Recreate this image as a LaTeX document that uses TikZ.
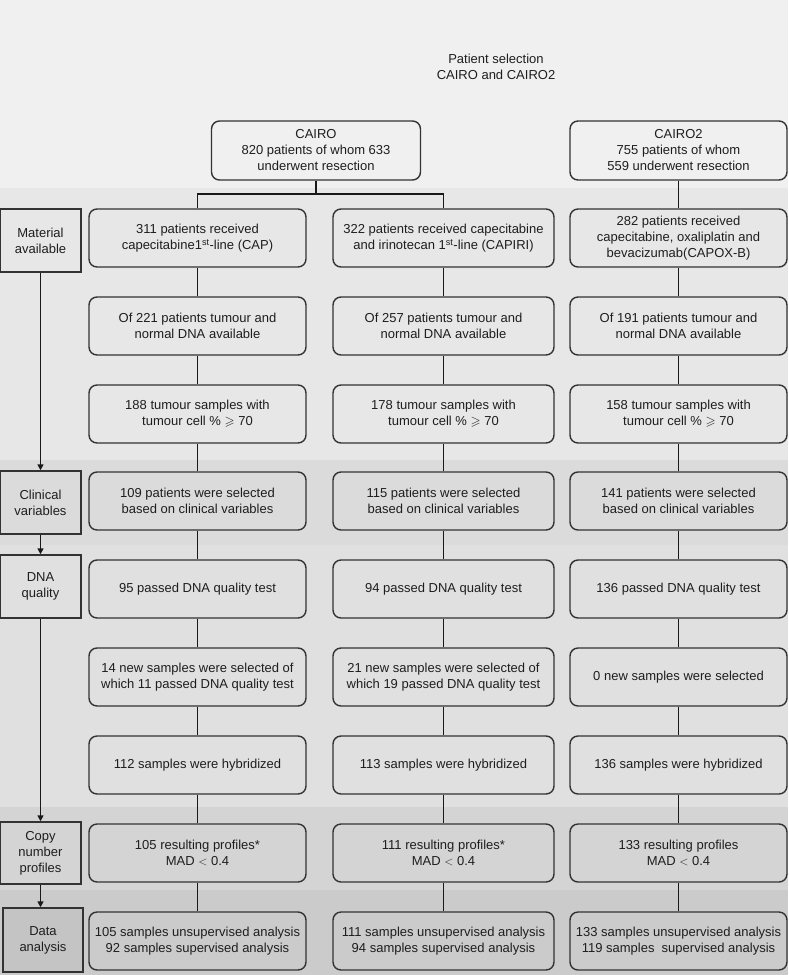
\documentclass[tikz,border=0pt]{standalone}
\usepackage{fontspec}
\usepackage{amssymb}
\setmainfont{Liberation Sans}
\usetikzlibrary{arrows.meta}
\definecolor{bgA}{HTML}{F0F0F1}
\definecolor{bgB}{HTML}{E7E7E8}
\definecolor{bgC}{HTML}{DBDBDC}
\definecolor{bgD}{HTML}{E0E0E0}
\definecolor{bgE}{HTML}{D4D4D4}
\definecolor{bgF}{HTML}{CBCBCB}
\definecolor{dabox}{HTML}{C4C4C4}
\definecolor{ink}{HTML}{1E1E1E}
\begin{document}
\begin{tikzpicture}[x=1pt,y=-1pt,
  txt/.style={font=\fontsize{13}{16}\selectfont,text=ink},
  rbox/.style={txt,draw=black!80,line width=1.4pt,rounded corners=8pt,minimum height=58pt,align=center,inner sep=0pt},
  lbox/.style={txt,draw=black!80,line width=1.4pt,minimum width=81pt,minimum height=63pt,align=center,inner sep=0pt},
  conn/.style={line width=1.6pt,black!90},
  arr/.style={line width=1.6pt,black!90,-{Triangle[length=6pt,width=6pt]}}]
% background bands
\fill[bgA] (0,0) rectangle (788,188);
\fill[bgB] (0,188) rectangle (788,460);
\fill[bgC] (0,460) rectangle (788,545);
\fill[bgD] (0,545) rectangle (788,807);
\fill[bgE] (0,807) rectangle (788,890);
\fill[bgF] (0,890) rectangle (788,975);
\useasboundingbox (0,0) rectangle (788,975);
% title
\node[txt,align=center] (title) at (496,67) {Patient selection\\CAIRO and CAIRO2};
% top boxes
\node[rbox,minimum width=209pt,minimum height=59pt] (cairo) at (316,150.5) {CAIRO\\820 patients of whom 633\\underwent resection};
\node[rbox,minimum width=217pt,minimum height=59pt] (cairotwo) at (678.5,150.5) {CAIRO2\\755 patients of whom\\559 underwent resection};
% column 1
\begin{scope}[every node/.style={rbox,minimum width=217pt}]
\node (a1) at (197.5,238) {311 patients received\\capecitabine1\textsuperscript{st}-line (CAP)};
\node (a2) at (197.5,326) {Of 221 patients tumour and\\normal DNA available};
\node (a3) at (197.5,414) {188 tumour samples with\\tumour cell \% $\geqslant$ 70};
\node (a4) at (197.5,501) {109 patients were selected\\based on clinical variables};
\node (a5) at (197.5,589) {95 passed DNA quality test};
\node (a6) at (197.5,677) {14 new samples were selected of\\which 11 passed DNA quality test};
\node (a7) at (197.5,765) {112 samples were hybridized};
\node (a8) at (197.5,853) {105 resulting profiles*\\MAD $<$ 0.4};
\node (a9) at (197.5,941) {105 samples unsupervised analysis\\92 samples supervised analysis};
\end{scope}
% column 2
\begin{scope}[every node/.style={rbox,minimum width=221pt}]
\node (b1) at (443.5,238) {322 patients received capecitabine\\and irinotecan 1\textsuperscript{st}-line (CAPIRI)};
\node (b2) at (443.5,326) {Of 257 patients tumour and\\normal DNA available};
\node (b3) at (443.5,414) {178 tumour samples with\\tumour cell \% $\geqslant$ 70};
\node (b4) at (443.5,501) {115 patients were selected\\based on clinical variables};
\node (b5) at (443.5,589) {94 passed DNA quality test};
\node (b6) at (443.5,677) {21 new samples were selected of\\which 19 passed DNA quality test};
\node (b7) at (443.5,765) {113 samples were hybridized};
\node (b8) at (443.5,853) {111 resulting profiles*\\MAD $<$ 0.4};
\node (b9) at (443.5,941) {111 samples unsupervised analysis\\94 samples supervised analysis};
\end{scope}
% column 3
\begin{scope}[every node/.style={rbox,minimum width=217pt}]
\node (c1) at (678.5,238) {282 patients received\\capecitabine, oxaliplatin and\\bevacizumab(CAPOX-B)};
\node (c2) at (678.5,326) {Of 191 patients tumour and\\normal DNA available};
\node (c3) at (678.5,414) {158 tumour samples with\\tumour cell \% $\geqslant$ 70};
\node (c4) at (678.5,501) {141 patients were selected\\based on clinical variables};
\node (c5) at (678.5,589) {136 passed DNA quality test};
\node (c6) at (678.5,677) {0 new samples were selected};
\node (c7) at (678.5,765) {136 samples were hybridized};
\node (c8) at (678.5,853) {133 resulting profiles\\MAD $<$ 0.4};
\node (c9) at (678.5,941) {133 samples unsupervised analysis\\119 samples\ \ supervised analysis};
\end{scope}
% left labels
\node[lbox,fill=bgB] (lmat) at (40.5,240.5) {Material\\available};
\node[lbox,fill=bgC] (lcli) at (40.5,502.5) {Clinical\\variables};
\node[lbox,fill=bgD] (ldna) at (40.5,586.5) {DNA\\quality};
\node[lbox,fill=bgE,minimum height=62pt] (lcop) at (40.5,853) {Copy\\number\\profiles};
\node[lbox,fill=dabox,minimum width=80pt,minimum height=64pt] (ldat) at (43,940) {Data\\analysis};
% connectors
\coordinate (split) at (316,194);
\draw[conn] (cairo.south) -- (split);
\draw[conn] (a1.north) |- (split) -| (b1.north);
\draw[conn] (cairotwo.south) -- (c1.north);
\foreach \p in {a,b,c}{
  \draw[conn] (\p1) -- (\p2);
  \draw[conn] (\p2) -- (\p3);
  \draw[conn] (\p3) -- (\p4);
  \draw[conn] (\p4) -- (\p5);
  \draw[conn] (\p5) -- (\p6);
  \draw[conn] (\p6) -- (\p7);
  \draw[conn] (\p7) -- (\p8);
  \draw[conn] (\p8) -- (\p9);
}
\draw[arr] (lmat.south) -- (lcli.north);
\draw[arr] (lcli.south) -- (ldna.north);
\draw[arr] (ldna.south) -- (lcop.north);
\draw[arr] (lcop.south) -- (lcop.south |- ldat.north);
\end{tikzpicture}
\end{document}
